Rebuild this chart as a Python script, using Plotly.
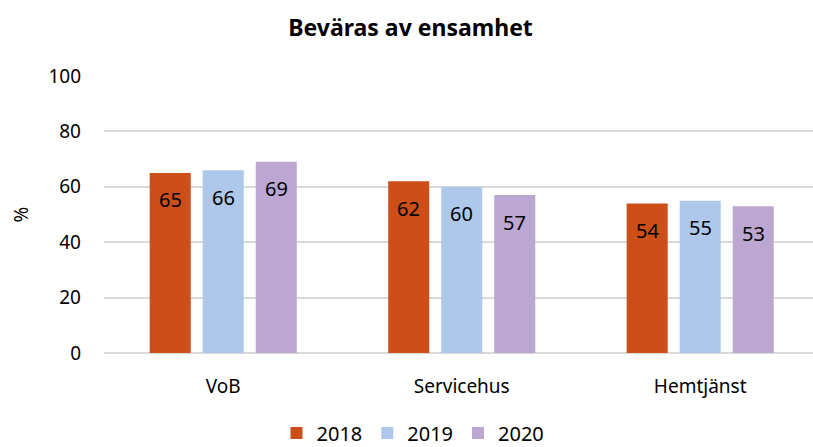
import plotly.graph_objects as go

categories = ["VoB", "Servicehus", "Hemtjänst"]
years = ["2018", "2019", "2020"]
values_2018 = [65, 62, 54]
values_2019 = [66, 60, 55]
values_2020 = [69, 57, 53]
colors = ["#CC4F19", "#ADC8EA", "#BBA7D1"]
y_ticks = [0, 20, 40, 60, 80, 100]

series = [values_2018, values_2019, values_2020]
FONT = "Noto Sans, Open Sans, sans-serif"
BARGAP = 0.333

fig = go.Figure()
for year, vals, col in zip(years, series, colors):
    fig.add_trace(go.Bar(
        x=list(range(len(categories))), y=vals, name=year,
        marker=dict(color=col, line=dict(width=0)),
        textposition="none",
        offsetgroup=year,
    ))

# value labels sit a little below each bar top
n = len(years)
slot = (1 - BARGAP) / n
for i, vals in enumerate(series):
    for j, v in enumerate(vals):
        xpos = j - (1 - BARGAP) / 2 + slot * (i + 0.5)
        fig.add_annotation(
            x=xpos, y=v, text=str(v), showarrow=False,
            yshift=-27, xref="x", yref="y",
            font=dict(family=FONT, size=20, color="#000000"),
        )

fig.update_layout(
    width=813, height=447,
    margin=dict(l=104, r=0, t=76, b=94, autoexpand=False),
    paper_bgcolor="white", plot_bgcolor="white",
    barmode="group", bargap=BARGAP, bargroupgap=0.226,
    title=dict(text="<b>Beväras av ensamhet</b>", x=0.505, xanchor="center",
               xref="container", yref="container", y=1 - 28 / 447, yanchor="middle",
               font=dict(family=FONT, size=23, color="#000000")),
    legend=dict(orientation="h", x=413 / 813, xanchor="center", xref="container",
                yref="container", y=1 - 433 / 447, yanchor="middle",
                font=dict(family=FONT, size=20, color="#000000"),
                traceorder="normal"),
    font=dict(family=FONT, color="#000000"),
)
fig.update_xaxes(
    tickmode="array", tickvals=[0, 1, 2], ticktext=categories,
    range=[-0.5, 2.473], showgrid=False, zeroline=False,
    showline=False, ticks="", ticklabelstandoff=20,
    tickfont=dict(family=FONT, size=19, color="#000000"),
)
fig.update_yaxes(
    range=[0, 100], tickvals=y_ticks, showgrid=True, gridcolor="#D9D9D9",
    gridwidth=1.5, zeroline=True, zerolinecolor="#D9D9D9", zerolinewidth=1.5,
    ticks="", ticklabelstandoff=22,
    tickfont=dict(family=FONT, size=19, color="#000000"),
    title=dict(text="%", font=dict(family=FONT, size=19, color="#000000"), standoff=14),
)

fig.write_html("out.html")
